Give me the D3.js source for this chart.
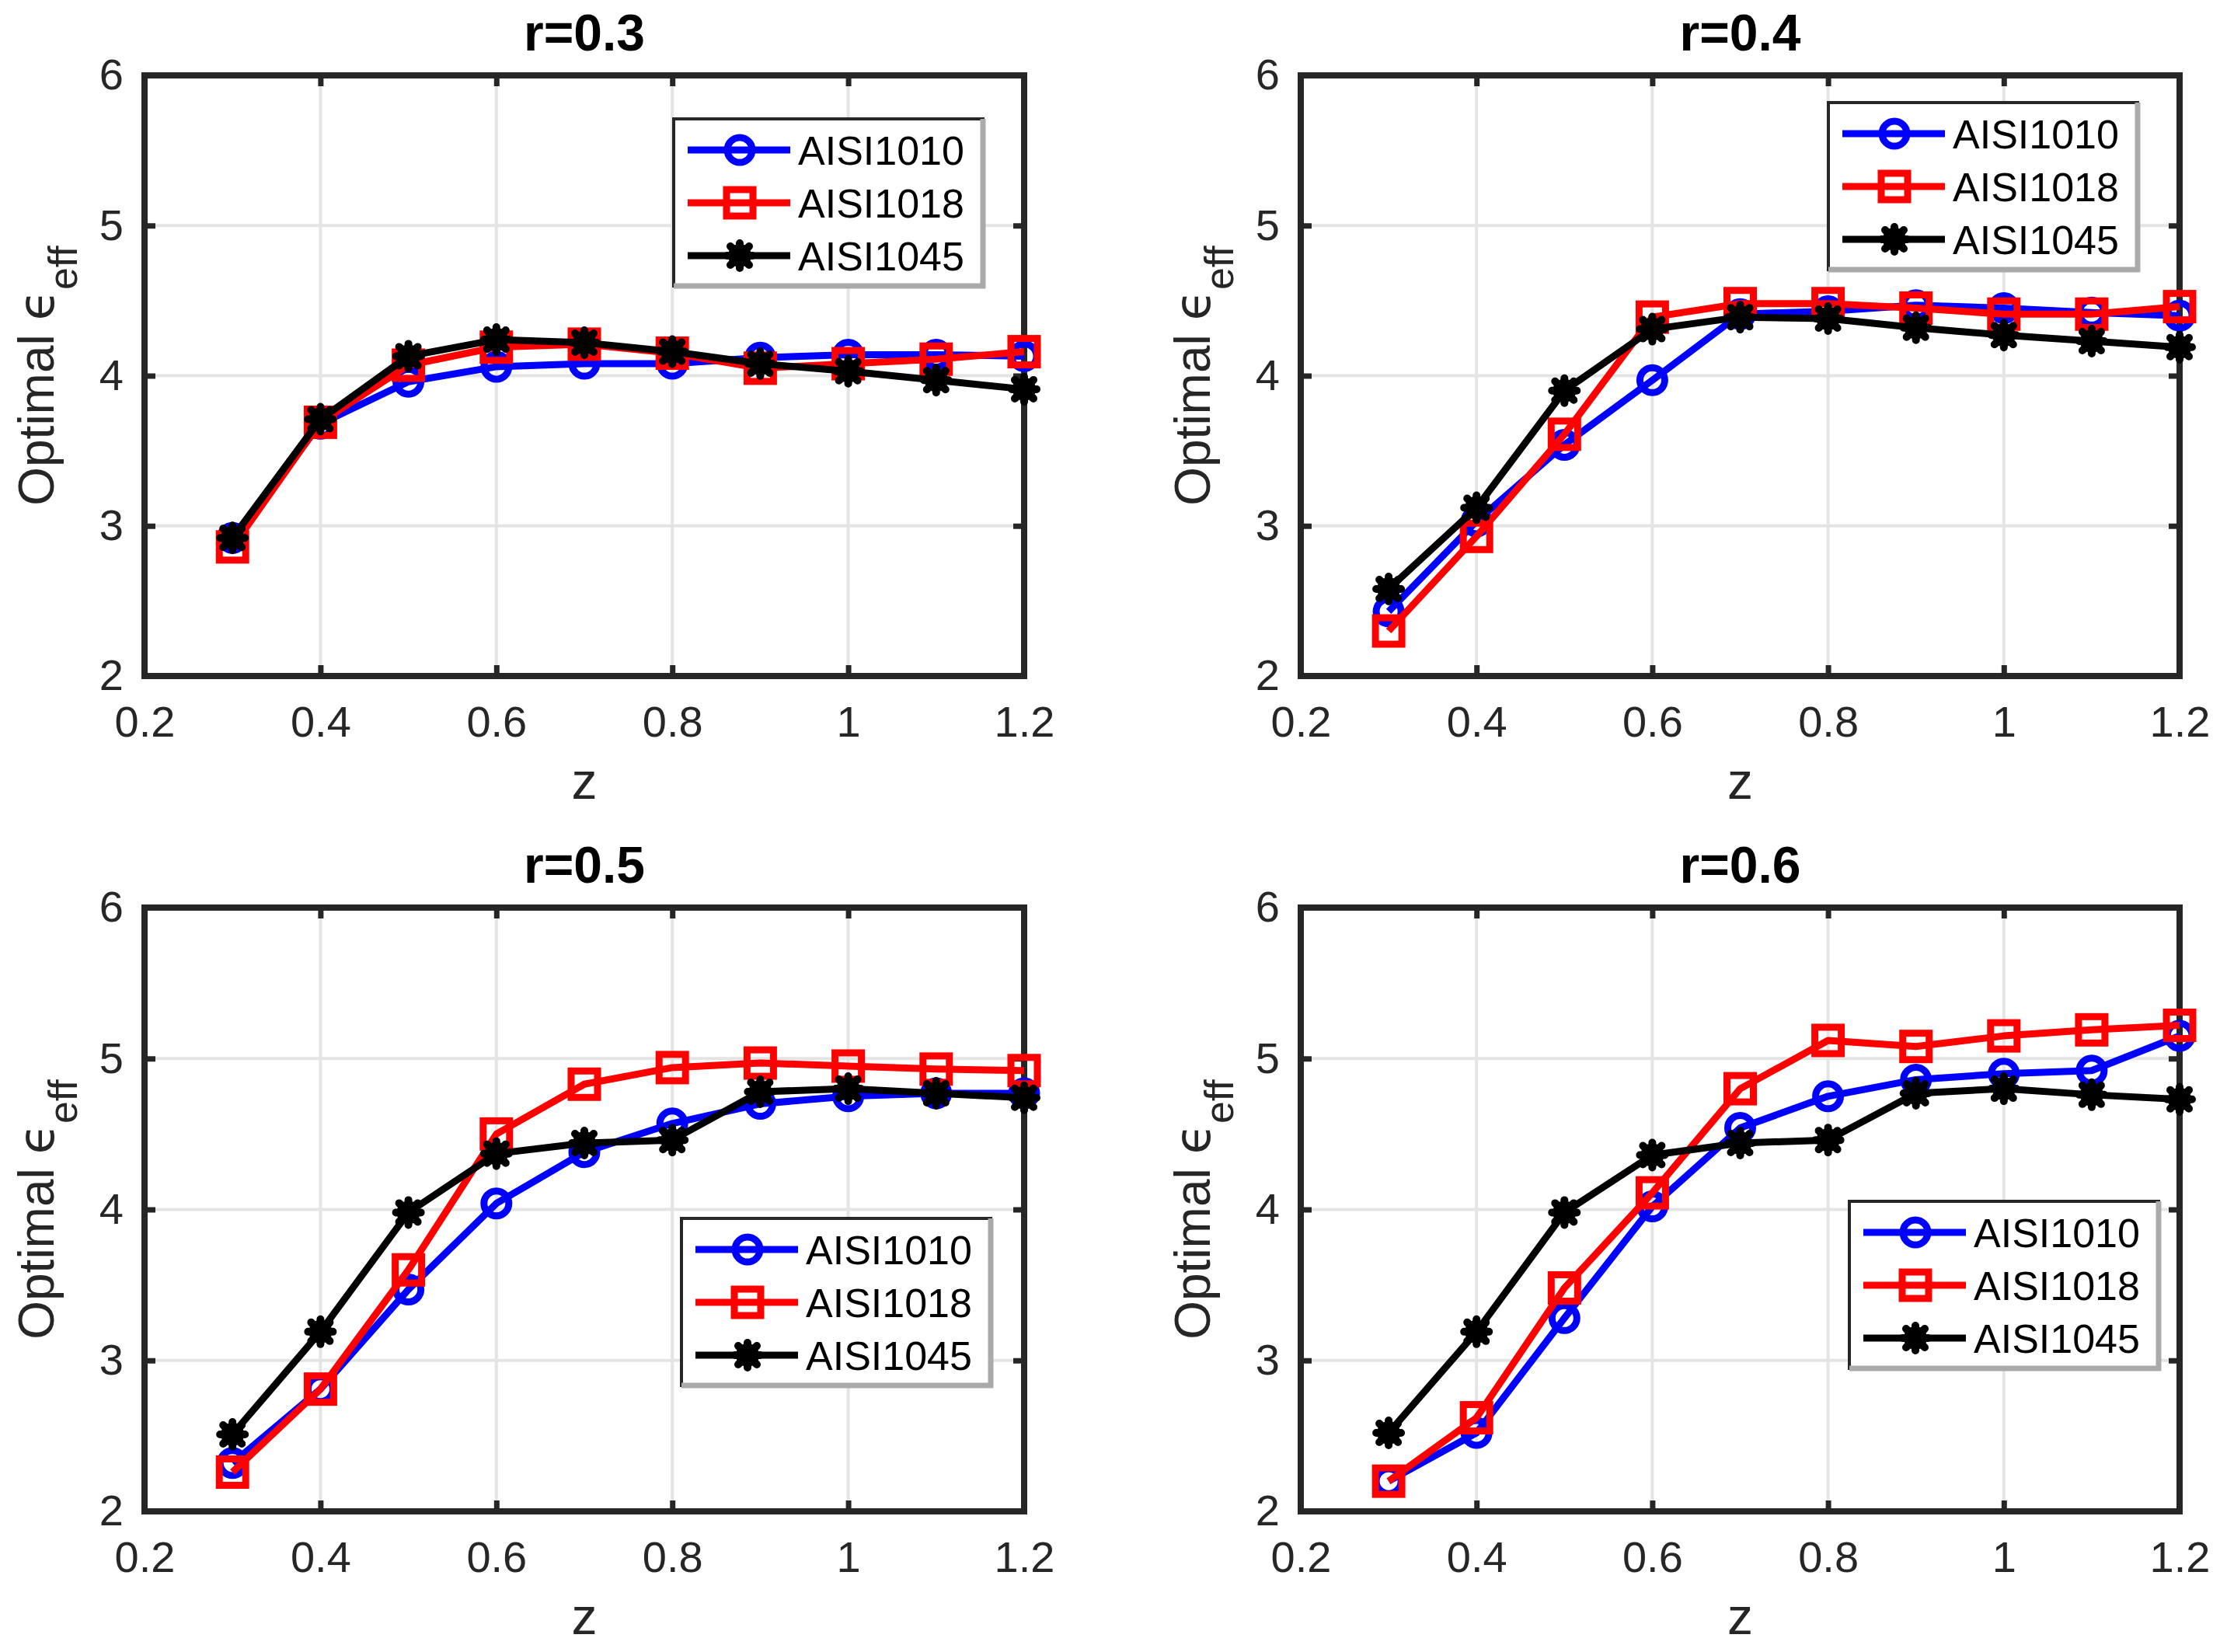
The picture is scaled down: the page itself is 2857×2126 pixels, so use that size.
<!DOCTYPE html>
<html><head><meta charset="utf-8">
<script src="https://cdn.jsdelivr.net/npm/d3@7/dist/d3.min.js"></script>
<style>
html,body{margin:0;padding:0;background:#fff;}
svg{display:block;font-family:"Liberation Sans",Arial,sans-serif;}
</style></head>
<body>
<svg id="chart" width="2857" height="2126"></svg>
<script>
// ---- data ----
const zValues = [0.3, 0.4, 0.5, 0.6, 0.7, 0.8, 0.9, 1.0, 1.1, 1.2];
const seriesNames = ["AISI1010", "AISI1018", "AISI1045"];
const panelTitles = ["r=0.3", "r=0.4", "r=0.5", "r=0.6"];
const xTickValues = [0.2, 0.4, 0.6, 0.8, 1.0, 1.2];
const xTickLabels = ["0.2", "0.4", "0.6", "0.8", "1", "1.2"];
const yTickValues = [2, 3, 4, 5, 6];
const yTickLabels = ["2", "3", "4", "5", "6"];

const r03_AISI1010 = [2.92, 3.68, 3.96, 4.06, 4.08, 4.08, 4.12, 4.14, 4.14, 4.13];
const r03_AISI1018 = [2.86, 3.69, 4.07, 4.19, 4.21, 4.15, 4.05, 4.08, 4.11, 4.16];
const r03_AISI1045 = [2.92, 3.71, 4.13, 4.24, 4.22, 4.16, 4.08, 4.03, 3.97, 3.91];

const r04_AISI1010 = [2.43, 3.03, 3.54, 3.97, 4.41, 4.43, 4.47, 4.45, 4.42, 4.40];
const r04_AISI1018 = [2.30, 2.93, 3.61, 4.39, 4.48, 4.48, 4.45, 4.41, 4.41, 4.46];
const r04_AISI1045 = [2.58, 3.12, 3.90, 4.31, 4.39, 4.38, 4.32, 4.27, 4.23, 4.19];

const r05_AISI1010 = [2.32, 2.81, 3.47, 4.04, 4.38, 4.57, 4.70, 4.75, 4.77, 4.77];
const r05_AISI1018 = [2.26, 2.81, 3.60, 4.50, 4.83, 4.94, 4.97, 4.95, 4.93, 4.92];
const r05_AISI1045 = [2.51, 3.19, 3.98, 4.37, 4.44, 4.46, 4.78, 4.80, 4.77, 4.74];

const r06_AISI1010 = [2.20, 2.52, 3.28, 4.02, 4.54, 4.75, 4.86, 4.90, 4.92, 5.15];
const r06_AISI1018 = [2.20, 2.62, 3.48, 4.11, 4.80, 5.12, 5.08, 5.15, 5.19, 5.22];
const r06_AISI1045 = [2.52, 3.19, 3.98, 4.36, 4.44, 4.46, 4.77, 4.80, 4.76, 4.73];

const panelSeries = [
  [r03_AISI1010, r03_AISI1018, r03_AISI1045],
  [r04_AISI1010, r04_AISI1018, r04_AISI1045],
  [r05_AISI1010, r05_AISI1018, r05_AISI1045],
  [r06_AISI1010, r06_AISI1018, r06_AISI1045]
];

// ---- layout / style ----
const seriesColors = ["#0000ff", "#ff0000", "#000000"];
const seriesMarkers = ["circle", "square", "asterisk"];
const panelBoxes = [
  {x0: 186, x1: 1318, y0: 97, y1: 870, lx: 867, ly: 153},
  {x0: 1674, x1: 2805, y0: 97, y1: 870, lx: 2353, ly: 132},
  {x0: 186, x1: 1318, y0: 1168, y1: 1945, lx: 877, ly: 1568},
  {x0: 1674, x1: 2805, y0: 1168, y1: 1945, lx: 2380, ly: 1546}
];
const axisColor = "#262626";
const gridColor = "#e4e4e4";

const svg = d3.select("#chart");

function drawMarker(g, type, cx, cy, color) {
  if (type === "circle") {
    g.append("circle").attr("cx", cx).attr("cy", cy).attr("r", 16)
      .attr("fill", "none").attr("stroke", color).attr("stroke-width", 9);
  } else if (type === "square") {
    g.append("rect").attr("x", cx - 17).attr("y", cy - 17).attr("width", 34).attr("height", 34)
      .attr("fill", "none").attr("stroke", color).attr("stroke-width", 9);
  } else {
    const s = 16, d = 12;
    const p = `M${cx - s},${cy}L${cx + s},${cy}M${cx},${cy - s}L${cx},${cy + s}` +
      `M${cx - d},${cy - d}L${cx + d},${cy + d}M${cx - d},${cy + d}L${cx + d},${cy - d}`;
    g.append("path").attr("d", p).attr("stroke", color).attr("stroke-width", 10)
      .attr("stroke-linecap", "round").attr("fill", "none");
    g.append("circle").attr("cx", cx).attr("cy", cy).attr("r", 15).attr("fill", color);
  }
}

panelBoxes.forEach((b, pi) => {
  const x = d3.scaleLinear().domain([0.2, 1.2]).range([b.x0, b.x1]);
  const y = d3.scaleLinear().domain([2, 6]).range([b.y1, b.y0]);
  const g = svg.append("g");

  // grid
  g.append("g").selectAll("line.gx").data(xTickValues).join("line")
    .attr("x1", d => x(d)).attr("x2", d => x(d)).attr("y1", b.y0).attr("y2", b.y1)
    .attr("stroke", gridColor).attr("stroke-width", 4);
  g.append("g").selectAll("line.gy").data(yTickValues).join("line")
    .attr("x1", b.x0).attr("x2", b.x1).attr("y1", d => y(d)).attr("y2", d => y(d))
    .attr("stroke", gridColor).attr("stroke-width", 4);

  // axes
  const ax = g.append("g").attr("transform", `translate(0,${b.y1})`)
    .call(d3.axisBottom(x).tickValues(xTickValues).tickFormat((d, i) => xTickLabels[i]).tickSize(-14).tickPadding(38));
  const axT = g.append("g").attr("transform", `translate(0,${b.y0})`)
    .call(d3.axisTop(x).tickValues(xTickValues).tickFormat("").tickSize(-14));
  const ay = g.append("g").attr("transform", `translate(${b.x0},0)`)
    .call(d3.axisLeft(y).tickValues(yTickValues).tickFormat((d, i) => yTickLabels[i]).tickSize(-14).tickPadding(27));
  const ayR = g.append("g").attr("transform", `translate(${b.x1},0)`)
    .call(d3.axisRight(y).tickValues(yTickValues).tickFormat("").tickSize(-14));
  [ax, axT, ay, ayR].forEach(a => {
    a.select(".domain").remove();
    a.selectAll(".tick line").attr("stroke", axisColor).attr("stroke-width", 7);
    a.selectAll(".tick text").attr("fill", axisColor).attr("font-size", 56)
      .attr("font-family", "'Liberation Sans', Arial, sans-serif");
  });

  // frame
  g.append("rect").attr("x", b.x0).attr("y", b.y0).attr("width", b.x1 - b.x0).attr("height", b.y1 - b.y0)
    .attr("fill", "none").attr("stroke", axisColor).attr("stroke-width", 8);

  // series
  const line = d3.line().x((d, i) => x(zValues[i])).y(d => y(d));
  panelSeries[pi].forEach((vals, si) => {
    const sg = g.append("g");
    sg.append("path").datum(vals).attr("d", line).attr("fill", "none")
      .attr("stroke", seriesColors[si]).attr("stroke-width", 9).attr("stroke-linejoin", "round");
    vals.forEach((v, i) => drawMarker(sg, seriesMarkers[si], x(zValues[i]), y(v), seriesColors[si]));
  });

  // title
  g.append("text").attr("x", (b.x0 + b.x1) / 2).attr("y", b.y0 - 32).attr("text-anchor", "middle")
    .attr("font-size", 66).attr("font-weight", "bold").attr("fill", "#000").text(panelTitles[pi]);

  // x label
  g.append("text").attr("x", (b.x0 + b.x1) / 2).attr("y", b.y1 + 158).attr("text-anchor", "middle")
    .attr("font-size", 66).attr("fill", axisColor).text("z");

  // y label
  const cy = (b.y0 + b.y1) / 2;
  const yl = g.append("text").attr("transform", `translate(${b.x0 - 117},${cy}) rotate(-90)`)
    .attr("text-anchor", "middle").attr("font-size", 64).attr("fill", axisColor);
  yl.append("tspan").text("Optimal ");
  yl.append("tspan").attr("font-family", "'DejaVu Sans', sans-serif").text("\u03F5");
  yl.append("tspan").attr("dy", 30).attr("font-size", 52).text("eff");

  // legend
  const lw = 398, lh = 215;
  const lg = g.append("g").attr("transform", `translate(${b.lx},${b.ly})`);
  lg.append("rect").attr("x", 0).attr("y", 0).attr("width", lw).attr("height", lh)
    .attr("fill", "#fff").attr("stroke", axisColor).attr("stroke-width", 4);
  lg.append("line").attr("x1", lw).attr("x2", lw).attr("y1", 0).attr("y2", lh + 3)
    .attr("stroke", "#aaaaaa").attr("stroke-width", 7);
  lg.append("line").attr("x1", 0).attr("x2", lw + 3).attr("y1", lh).attr("y2", lh)
    .attr("stroke", "#aaaaaa").attr("stroke-width", 7);
  seriesNames.forEach((name, si) => {
    const ry = 40 + si * 68;
    lg.append("line").attr("x1", 18).attr("x2", 150).attr("y1", ry).attr("y2", ry)
      .attr("stroke", seriesColors[si]).attr("stroke-width", 9);
    drawMarker(lg, seriesMarkers[si], 85, ry, seriesColors[si]);
    lg.append("text").attr("x", 160).attr("y", ry + 19).attr("font-size", 52)
      .attr("fill", "#000").text(name);
  });
});
</script>
</body></html>
